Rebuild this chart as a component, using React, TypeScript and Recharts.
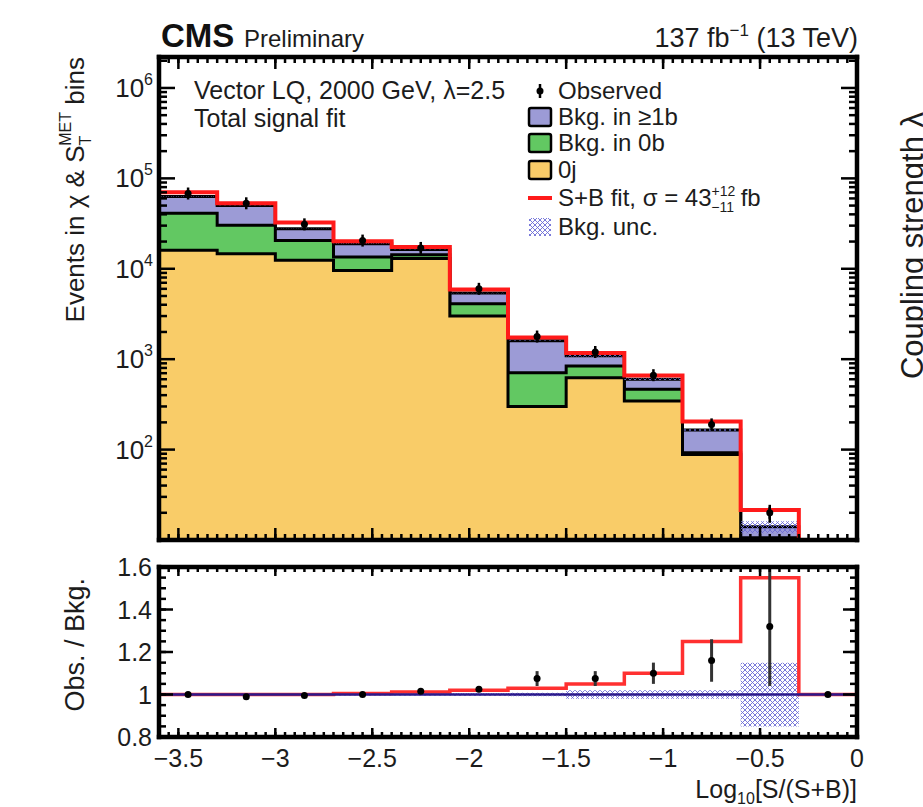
import React from 'react';
import { ComposedChart, Area, Line, Scatter, XAxis, YAxis, ErrorBar, ReferenceLine, ReferenceDot } from 'recharts';

// ---------- data ----------
const binEdges = [-3.6, -3.3, -3.0, -2.7, -2.4, -2.1, -1.8, -1.5, -1.2, -0.9, -0.6, -0.3, 0];
const binCenters = [-3.45, -3.15, -2.85, -2.55, -2.25, -1.95, -1.65, -1.35, -1.05, -0.75, -0.45, -0.15];

const bkg0j = [16000, 14700, 12400, 9600, 13000, 3000, 300, 625, 345, 88, 10.3, 4];
const bkg0b = [25000, 15600, 8200, 3900, 1300, 1100, 410, 215, 120, 4, 0.3, 0.5];
const bkg1b = [22000, 19700, 7200, 5400, 2000, 1300, 890, 250, 135, 73, 3.4, 0.5];
const sbFit = [70000, 53000, 32400, 20100, 17400, 5900, 1740, 1170, 660, 205, 21.5, 5];
const observed = [68000, 53000, 31000, 20500, 17000, 6000, 1780, 1200, 665, 190, 20, 5];
const observedErr = [260, 230, 176, 143, 130, 77, 42, 35, 26, 14, 4.5, 2.2];
const bkgUnc = [0.004, 0.004, 0.004, 0.005, 0.005, 0.006, 0.008, 0.02, 0.02, 0.02, 0.15, 0];

const ratioSB = [1.0, 1.0, 1.0, 1.005, 1.012, 1.02, 1.03, 1.05, 1.1, 1.25, 1.55, 1.0];
const ratioObs = [1.0, 0.99, 0.995, 1.0, 1.015, 1.025, 1.075, 1.075, 1.1, 1.16, 1.32, 1.0];
const ratioObsErr = [0.004, 0.005, 0.006, 0.007, 0.008, 0.014, 0.035, 0.035, 0.05, 0.1, 0.28, 0];

const xMajorTicks = [-3.5, -3, -2.5, -2, -1.5, -1, -0.5, 0];
const logMajorTicks = [100, 1000, 10000, 100000, 1000000];
const ratioMajorTicks = [0.8, 1.0, 1.2, 1.4, 1.6];

// ---------- styling ----------
const FONT = '"Liberation Sans", Arial, Helvetica, sans-serif';
const TXT = '#1c1c1c';
const PURPLE = '#9c9bd6';
const GREEN = '#62c862';
const ORANGE = '#f9cc68';
const RED = '#ff1a1a';
const X_DOMAIN: [number, number] = [-3.6, 0];
const LOG_DOMAIN: [number, number] = [10, 2.2e6];
const RATIO_DOMAIN: [number, number] = [0.8, 1.6];

// minor tick positions (axis decoration)
const xMinorTicks: number[] = [];
for (let i = 1; i < 72; i++) xMinorTicks.push(Number((-3.6 + i * 0.05).toFixed(2)));
const logMinorTicks: number[] = [];
[10, 100, 1000, 10000, 100000, 1000000].forEach((d) => {
  for (let k = 2; k <= 9; k++) if (d * k < LOG_DOMAIN[1]) logMinorTicks.push(d * k);
});
const ratioMinorTicks: number[] = [];
for (let i = 1; i < 16; i++) ratioMinorTicks.push(Number((0.8 + i * 0.05).toFixed(2)));

// ---------- tables built from the arrays ----------
const lastBin = binCenters.length - 1;
const topRows = binEdges.map((x, i) => {
  const b = Math.min(i, lastBin);
  const orange = bkg0j[b];
  const green = orange + bkg0b[b];
  const total = green + bkg1b[b];
  return { x, orange, green, total, sb: sbFit[b], band: [total * (1 - bkgUnc[b]), total * (1 + bkgUnc[b])] };
});
const ratioRows = binEdges.map((x, i) => {
  const b = Math.min(i, lastBin);
  return { x, sb: i > lastBin ? 0 : ratioSB[b], band: [1 - bkgUnc[b], 1 + bkgUnc[b]] };
});
const obsPoints = binCenters
  .map((x, i) => ({ x, y: observed[i], err: observedErr[i] }))
  .filter((p) => p.y > LOG_DOMAIN[0]);
const ratioPoints = binCenters.map((x, i) => ({ x, y: ratioObs[i], err: ratioObsErr[i] }));

// ---------- tick labels ----------
const logLabel = (p: any) => {
  const exp = Math.round(Math.log10(p.payload.value));
  return (
    <text x={153} y={p.y + 9} textAnchor="end" fontFamily={FONT} fontSize={26} fill={TXT}>
      10<tspan dy={-12} fontSize={16}>{exp}</tspan>
    </text>
  );
};
const ratioLabel = (p: any) => {
  const v = p.payload.value;
  return (
    <text x={152} y={p.y + 9} textAnchor="end" fontFamily={FONT} fontSize={25} fill={TXT}>
      {Math.abs(v - 1) < 1e-9 ? '1' : v.toFixed(1)}
    </text>
  );
};
const xLabel = (p: any) => {
  const v = p.payload.value;
  const label = v === 0 ? '0' : '\u2212' + String(Math.abs(v));
  return (
    <text x={p.x} y={767} textAnchor="middle" fontFamily={FONT} fontSize={25} fill={TXT}>
      {label}
    </text>
  );
};

const frameLine = { stroke: '#000', strokeWidth: 4.5, strokeLinecap: 'square' } as any;

// frame axes; the visible copy draws the frame and the labels
function axesSet(visible: boolean, yScale: 'log' | 'linear', yDomain: [number, number], yMajor: number[], xLab: any, yLab: any) {
  const xCommon = { type: 'number' as const, domain: X_DOMAIN, allowDataOverflow: true, interval: 0 as const, height: 1, tickLine: false };
  const yCommon = { type: 'number' as const, scale: yScale, domain: yDomain, allowDataOverflow: true, interval: 0 as const, width: 1, tickLine: false };
  const line = visible ? frameLine : false;
  return [
    <XAxis key="xb" xAxisId="b" dataKey="x" orientation="bottom" {...xCommon} ticks={xMajorTicks} axisLine={line} tick={visible && xLab ? xLab : false} />,
    <XAxis key="xt" xAxisId="t" orientation="top" {...xCommon} ticks={xMajorTicks} axisLine={line} tick={false} />,
    <YAxis key="yl" yAxisId="l" orientation="left" {...yCommon} ticks={yMajor} axisLine={line} tick={visible && yLab ? yLab : false} />,
    <YAxis key="yr" yAxisId="r" orientation="right" {...yCommon} ticks={yMajor} axisLine={line} tick={false} />,
  ];
}

// inward tick marks (positions from the axis scales)
const TICK = { stroke: '#000', strokeWidth: 2.5 };
const vTickShape = (len: number) => (p: any) => {
  const x = p.x1;
  const yt = Math.min(p.y1, p.y2);
  const yb = Math.max(p.y1, p.y2);
  return (
    <g>
      <line x1={x} x2={x} y1={yt} y2={yt + len} {...TICK} />
      <line x1={x} x2={x} y1={yb} y2={yb - len} {...TICK} />
    </g>
  );
};
const hDotShape = (len: number) => (p: any) => (
  <line x1={p.cx} x2={p.cx + len} y1={p.cy} y2={p.cy} {...TICK} />
);
function tickLines(prefix: string, xMaj: number, xMin: number, yMaj: number[], yMin: number[], yMajLen: number, yMinLen: number) {
  const out: any[] = [];
  xMajorTicks.forEach((v) => out.push(<ReferenceLine key={prefix + 'xM' + v} xAxisId="b" yAxisId="l" x={v} shape={vTickShape(xMaj)} />));
  xMinorTicks.forEach((v) => out.push(<ReferenceLine key={prefix + 'xm' + v} xAxisId="b" yAxisId="l" x={v} shape={vTickShape(xMin)} />));
  const addY = (v: number, len: number, tag: string) => {
    out.push(<ReferenceDot key={prefix + tag + 'L' + v} xAxisId="b" yAxisId="l" x={X_DOMAIN[0]} y={v} r={1} ifOverflow="visible" shape={hDotShape(len)} />);
    out.push(<ReferenceDot key={prefix + tag + 'R' + v} xAxisId="b" yAxisId="l" x={X_DOMAIN[1]} y={v} r={1} ifOverflow="visible" shape={hDotShape(-len)} />);
  };
  yMaj.forEach((v) => addY(v, yMajLen, 'M'));
  yMin.forEach((v) => addY(v, yMinLen, 'm'));
  return out;
}

const TopObsShape = (p: any) => (
  <g>
    <line x1={p.cx} x2={p.cx} y1={p.cy - 6} y2={p.cy + 6} stroke="#000" strokeWidth={2.5} />
    <circle cx={p.cx} cy={p.cy} r={3.5} fill="#000" />
  </g>
);
const RatioObsShape = (p: any) => <circle cx={p.cx} cy={p.cy} r={3.5} fill="#000" />;

const T = (props: any) => <text fontFamily={FONT} fill={TXT} {...props} />;

const TOP_MARGIN = { top: 56, right: 65, bottom: 266, left: 158 };
const RATIO_MARGIN = { top: 566, right: 65, bottom: 69, left: 158 };
const layer = { position: 'absolute' as const, left: 0, top: 0 };

export default function App() {
  return (
    <div style={{ position: 'absolute', left: 0, top: 0, width: 923, height: 807, background: '#fff', overflow: 'hidden' }}>
      <svg width={0} height={0} style={{ position: 'absolute' }}>
        <defs>
          <pattern id="hatch" width="5" height="5" patternUnits="userSpaceOnUse">
            <path d="M0,0 L5,5 M5,0 L0,5" stroke="#6b6bd6" strokeWidth="0.9" />
          </pattern>
        </defs>
      </svg>

      {/* upper panel: data */}
      <div style={layer}>
        <ComposedChart width={923} height={807} data={topRows} margin={TOP_MARGIN}>
          {axesSet(false, 'log', LOG_DOMAIN, logMajorTicks, null, null)}
          <Area xAxisId="b" yAxisId="l" type="stepAfter" dataKey="total" fill={PURPLE} fillOpacity={1} stroke="#000" strokeWidth={3} dot={false} activeDot={false} isAnimationActive={false} />
          <Area xAxisId="b" yAxisId="l" type="stepAfter" dataKey="green" fill={GREEN} fillOpacity={1} stroke="#000" strokeWidth={3} dot={false} activeDot={false} isAnimationActive={false} />
          <Area xAxisId="b" yAxisId="l" type="stepAfter" dataKey="orange" fill={ORANGE} fillOpacity={1} stroke="#000" strokeWidth={3} dot={false} activeDot={false} isAnimationActive={false} />
          <Area xAxisId="b" yAxisId="l" type="stepAfter" dataKey="band" fill="url(#hatch)" fillOpacity={1} stroke="none" dot={false} activeDot={false} isAnimationActive={false} />
          <Line xAxisId="b" yAxisId="l" type="stepAfter" dataKey="sb" stroke={RED} strokeWidth={4} dot={false} activeDot={false} isAnimationActive={false} />
          <Scatter xAxisId="b" yAxisId="l" data={obsPoints} dataKey="y" shape={TopObsShape} isAnimationActive={false}>
            <ErrorBar dataKey="err" direction="y" width={0} stroke="#000" strokeWidth={2.5} />
          </Scatter>
        </ComposedChart>
      </div>

      {/* ratio panel: data */}
      <div style={layer}>
        <ComposedChart width={923} height={807} data={ratioRows} margin={RATIO_MARGIN}>
          {axesSet(false, 'linear', RATIO_DOMAIN, ratioMajorTicks, null, null)}
          <Area xAxisId="b" yAxisId="l" type="stepAfter" dataKey="band" fill="url(#hatch)" fillOpacity={1} stroke="none" dot={false} activeDot={false} isAnimationActive={false} />
          <Line xAxisId="b" yAxisId="l" type="stepAfter" dataKey="sb" stroke="#ff3030" strokeWidth={3.5} dot={false} activeDot={false} isAnimationActive={false} />
          <ReferenceLine xAxisId="b" yAxisId="l" y={1} stroke="#2b1a8c" strokeWidth={2.5} />
          <Scatter xAxisId="b" yAxisId="l" data={ratioPoints} dataKey="y" shape={RatioObsShape} isAnimationActive={false}>
            <ErrorBar dataKey="err" direction="y" width={0} stroke="#333" strokeWidth={3} />
          </Scatter>
        </ComposedChart>
      </div>

      {/* frames, ticks and tick labels drawn on top */}
      <div style={layer}>
        <ComposedChart width={923} height={807} data={topRows} margin={TOP_MARGIN}>
          {axesSet(true, 'log', LOG_DOMAIN, logMajorTicks, null, logLabel)}
          <Line xAxisId="b" yAxisId="l" dataKey="sb" stroke="none" dot={false} activeDot={false} isAnimationActive={false} />
          {tickLines('top', 12, 6, logMajorTicks, logMinorTicks, 16, 8)}
        </ComposedChart>
      </div>
      <div style={layer}>
        <ComposedChart width={923} height={807} data={ratioRows} margin={RATIO_MARGIN}>
          {axesSet(true, 'linear', RATIO_DOMAIN, ratioMajorTicks, xLabel, ratioLabel)}
          <Line xAxisId="b" yAxisId="l" dataKey="sb" stroke="none" dot={false} activeDot={false} isAnimationActive={false} />
          {tickLines('rat', 9, 5, ratioMajorTicks, ratioMinorTicks, 14, 7)}
        </ComposedChart>
      </div>

      {/* text overlay */}
      <svg width={923} height={807} style={{ position: 'absolute', left: 0, top: 0, pointerEvents: 'none' }}>
        <T x={161} y={47} fontSize={33} fontWeight="bold" fill="#111">CMS</T>
        <T x={244} y={47} fontSize={24}>Preliminary</T>
        <T x={858} y={47} fontSize={27} textAnchor="end">
          137 fb<tspan dy={-11} fontSize={17}>{'\u22121'}</tspan>
          <tspan dy={11}> (13 TeV)</tspan>
        </T>

        <T x={194} y={99} fontSize={25}>{'Vector LQ, 2000 GeV, \u03bb=2.5'}</T>
        <T x={194} y={127} fontSize={25}>Total signal fit</T>

        {/* legend */}
        <line x1={540} x2={540} y1={84} y2={98} stroke="#000" strokeWidth={2.5} />
        <circle cx={540} cy={91} r={3.5} fill="#000" />
        <T x={558} y={99} fontSize={24}>Observed</T>

        <rect x={529} y={108} width={22} height={18} rx={2} fill={PURPLE} stroke="#000" strokeWidth={2.5} />
        <T x={558} y={125} fontSize={24}>{'Bkg. in \u22651b'}</T>

        <rect x={529} y={134} width={22} height={18} rx={2} fill={GREEN} stroke="#000" strokeWidth={2.5} />
        <T x={558} y={151} fontSize={24}>Bkg. in 0b</T>

        <rect x={529} y={161} width={22} height={18} rx={2} fill={ORANGE} stroke="#000" strokeWidth={2.5} />
        <T x={558} y={178} fontSize={24}>0j</T>

        <line x1={528} x2={552} y1={198} y2={198} stroke={RED} strokeWidth={4} />
        <T x={558} y={206} fontSize={24}>
          {'S+B fit, \u03c3 = 43'}
          <tspan dy={-10} fontSize={14}>+12</tspan>
          <tspan dx={-24} dy={16} fontSize={14}>{'\u221211'}</tspan>
          <tspan dy={-6}> fb</tspan>
        </T>

        <rect x={529} y={218} width={22} height={18} fill="url(#hatch)" />
        <T x={558} y={235} fontSize={24}>Bkg. unc.</T>

        {/* axis titles */}
        <T x={84} y={57} fontSize={26} textAnchor="end" transform="rotate(-90 84 57)">
          {'Events in \u03c7 & S'}
          <tspan dy={7} fontSize={16}>T</tspan>
          <tspan dx={-10} dy={-20} fontSize={16}>MET</tspan>
          <tspan dy={13}> bins</tspan>
        </T>
        <T x={84} y={578} fontSize={27} textAnchor="end" transform="rotate(-90 84 578)">Obs. / Bkg.</T>
        <T x={857} y={798} fontSize={25} textAnchor="end">
          Log<tspan dy={6} fontSize={16}>10</tspan>
          <tspan dy={-6}>[S/(S+B)]</tspan>
        </T>

        {/* neighbouring panel title, cut by the image edge */}
        <T x={923} y={112} fontSize={31} textAnchor="end" transform="rotate(-90 923 112)">{'Coupling strength \u03bb'}</T>
      </svg>
    </div>
  );
}
